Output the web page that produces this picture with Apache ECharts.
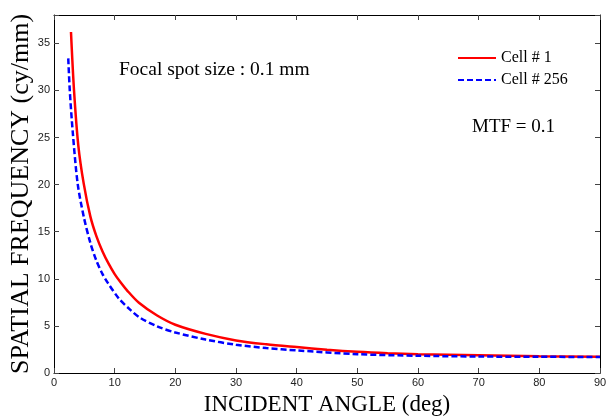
<!DOCTYPE html>
<html>
<head>
<meta charset="utf-8">
<script src="https://cdn.jsdelivr.net/npm/echarts@6/dist/echarts.min.js"></script>
<style>html,body{margin:0;padding:0;background:#fff;}#c{width:607px;height:419px;}</style>
</head>
<body>
<div id="c"></div>
<script>
var cell1Angle = [2.8, 3.3, 4.0, 4.9, 6.0, 7.0, 8.0, 9.0, 10.0, 11.0, 12.0, 14.0, 17.0, 20.0, 25.0, 30.0, 35.0, 40.0, 45.0, 50.0, 55.0, 60.0, 70.0, 80.0, 90.0];
var cell1Freq  = [36.2, 30.0, 24.2, 20.1, 16.6, 14.5, 12.9, 11.6, 10.5, 9.6, 8.8, 7.45, 6.1, 5.12, 4.15, 3.46, 3.05, 2.75, 2.47, 2.25, 2.1, 2.0, 1.88, 1.78, 1.73];
var cell256Angle = [2.35, 2.6, 3.1, 3.9, 4.9, 6.0, 7.0, 8.0, 8.9, 10.7, 12.5, 14.1, 17.0, 20.0, 25.0, 30.0, 35.0, 40.0, 50.0, 60.0, 70.0, 80.0, 90.0];
var cell256Freq  = [33.4, 30.0, 25.5, 20.1, 16.6, 13.8, 11.9, 10.5, 9.54, 7.9, 6.75, 5.9, 4.95, 4.3, 3.55, 3.0, 2.65, 2.4, 2.0, 1.83, 1.75, 1.72, 1.7];
var seriesNames = ['Cell # 1', 'Cell # 256'];
var xTitle = 'INCIDENT ANGLE (deg)';
var yTitle = 'SPATIAL FREQUENCY (cy/mm)';
var note1 = 'Focal spot size : 0.1 mm';
var note2 = 'MTF = 0.1';

function pairs(xs, ys){ return xs.map(function(x,i){ return [x, ys[i]]; }); }

var chart = echarts.init(document.getElementById('c'));
var serif = 'Liberation Serif';
var sans = 'Liberation Sans';
var tickStyle = {show:true, inside:true, length:5, lineStyle:{color:'#444', width:1}};
chart.setOption({
  animation:false,
  backgroundColor:'#fff',
  grid:{left:54, right:7, top:15, bottom:46, containLabel:false, outerBoundsMode:'none'},
  legend:{
    orient:'vertical', left:452, top:45, itemWidth:38, itemHeight:14, itemGap:6,
    itemStyle:{opacity:0},
    textStyle:{fontFamily:serif, fontSize:16, color:'#000'},
    data:seriesNames
  },
  xAxis:[{
    type:'value', min:0, max:90, interval:10,
    name:xTitle, nameLocation:'middle', nameGap:20,
    nameTextStyle:{fontFamily:serif, fontSize:23, color:'#000'},
    axisLine:{show:true, onZero:false, lineStyle:{color:'#000', width:1}},
    axisTick:tickStyle,
    axisLabel:{fontFamily:sans, fontSize:11, color:'#222', margin:4},
    splitLine:{show:false}
  },{
    type:'value', position:'top', min:0, max:90, interval:10,
    axisLine:{show:true, onZero:false, lineStyle:{color:'#000', width:1}},
    axisTick:tickStyle, axisLabel:{show:false}, splitLine:{show:false}
  }],
  yAxis:[{
    type:'value', min:0, max:38, interval:5,
    name:yTitle, nameLocation:'middle', nameGap:20, nameMoveOverlap:false,
    nameTextStyle:{fontFamily:serif, fontSize:26, color:'#000'},
    axisLine:{show:true, onZero:false, lineStyle:{color:'#000', width:1}},
    axisTick:tickStyle,
    axisLabel:{fontFamily:sans, fontSize:11, color:'#222', margin:4,
      formatter:function(v){ return v % 5 === 0 ? String(v) : ''; }},
    splitLine:{show:false}
  },{
    type:'value', position:'right', min:0, max:38, interval:5,
    axisLine:{show:true, onZero:false, lineStyle:{color:'#000', width:1}},
    axisTick:tickStyle, axisLabel:{show:false}, splitLine:{show:false}
  }],
  graphic:[
    {type:'text', left:119, top:60, style:{text:note1, font:'19.5px "Liberation Serif"', fill:'#000'}},
    {type:'text', left:472, top:118, style:{text:note2, font:'19px "Liberation Serif"', fill:'#000'}}
  ],
  series:[{
    name:seriesNames[0], type:'line', smooth:0.3, symbol:'none',
    data:pairs(cell1Angle, cell1Freq),
    lineStyle:{color:'#ff0000', width:2.5}, itemStyle:{color:'#ff0000'}
  },{
    name:seriesNames[1], type:'line', smooth:0.3, symbol:'none',
    data:pairs(cell256Angle, cell256Freq),
    lineStyle:{color:'#0000ff', width:2.5, type:[6,3]}, itemStyle:{color:'#0000ff'}
  }]
});
</script>
</body>
</html>
